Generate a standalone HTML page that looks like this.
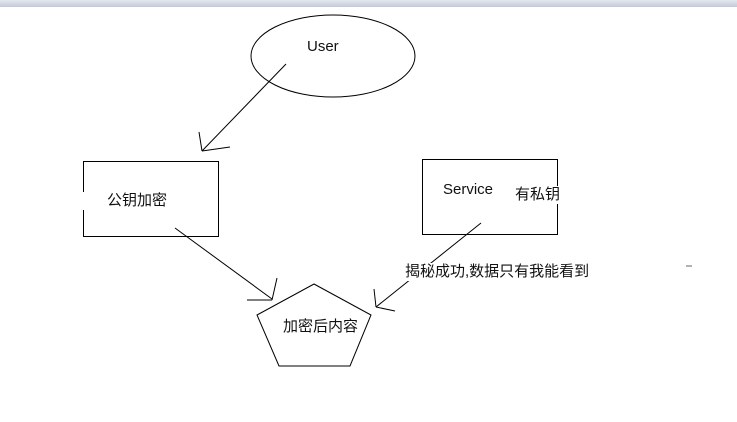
<!DOCTYPE html>
<html><head><meta charset="utf-8"><style>
html,body{margin:0;padding:0;background:#fff;width:737px;height:422px;overflow:hidden;position:relative;font-family:"Liberation Sans","Noto Sans CJK SC",sans-serif;}
.bar{position:absolute;left:0;top:0;width:737px;height:7px;background:linear-gradient(#e4e8ef,#c3c9d6);}
.t{position:absolute;font-size:15px;color:#111;white-space:nowrap;background:#fff;line-height:18px;}
</style></head><body>
<div class="bar"></div>
<svg width="737" height="422" style="position:absolute;left:0;top:0" fill="none" stroke="#000" stroke-width="1">
<ellipse cx="333" cy="56" rx="82" ry="41"/>
<rect x="83.5" y="161.5" width="135" height="75"/>
<rect x="422.5" y="159.5" width="135" height="75"/>
<line x1="286" y1="64" x2="202" y2="151"/>
<line x1="199" y1="132" x2="202" y2="151"/>
<line x1="202" y1="151" x2="230" y2="147"/>
<line x1="175" y1="228" x2="272" y2="299"/>
<line x1="247" y1="300" x2="272" y2="300"/>
<line x1="277" y1="278" x2="272" y2="300"/>
<line x1="481" y1="223" x2="376" y2="307"/>
<line x1="374" y1="289" x2="376" y2="307"/>
<line x1="376" y1="307" x2="395" y2="311"/>
<polygon points="314,284 371,315 350,366 279,366 257,315"/>
<line x1="686" y1="266" x2="692" y2="266" stroke="#666"/>
</svg>
<div class="t" style="left:307px;top:38px;background:none">User</div>
<div class="t" style="left:80px;top:192px;padding-left:27px;">公钥加密</div>
<div class="t" style="left:443px;top:181px;background:none">Service</div>
<div class="t" style="left:515px;top:186px;">有私钥</div>
<div class="t" style="left:405px;top:263px;">揭秘成功,数据只有我能看到</div>
<div class="t" style="left:283px;top:318px;background:none">加密后内容</div>
</body></html>
